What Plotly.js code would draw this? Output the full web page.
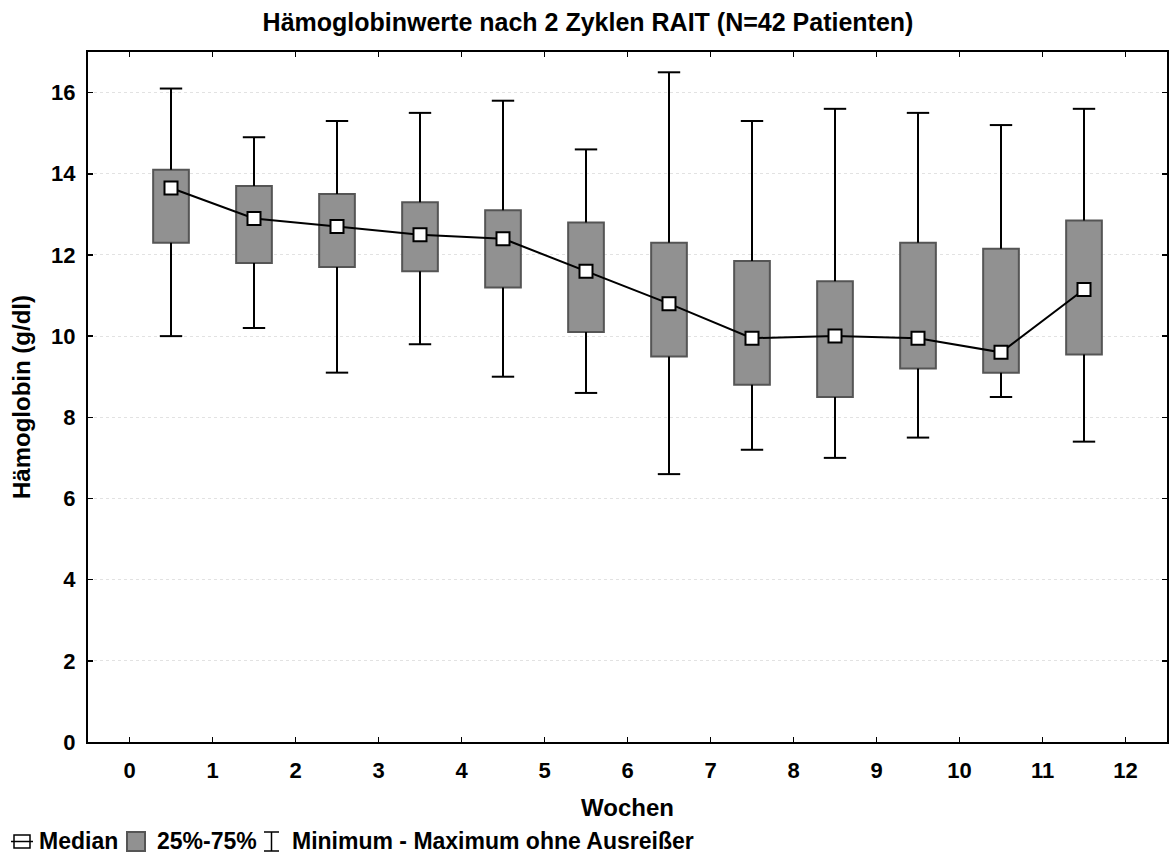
<!DOCTYPE html>
<html>
<head>
<meta charset="utf-8">
<script src="https://cdn.plot.ly/plotly-3.0.1.min.js"></script>
<style>html,body{margin:0;padding:0;background:#fff;}#chart{width:1169px;height:857px;}</style>
</head>
<body>
<div id="chart"></div>
<script>
// Data
const weekPos = [0.5, 1.5, 2.5, 3.5, 4.5, 5.5, 6.5, 7.5, 8.5, 9.5, 10.5, 11.5];
const maxVals = [16.1, 14.9, 15.3, 15.5, 15.8, 14.6, 16.5, 15.3, 15.6, 15.5, 15.2, 15.6];
const q3Vals  = [14.1, 13.7, 13.5, 13.3, 13.1, 12.8, 12.3, 11.85, 11.35, 12.3, 12.15, 12.85];
const medVals = [13.65, 12.9, 12.7, 12.5, 12.4, 11.6, 10.8, 9.95, 10.0, 9.95, 9.6, 11.15];
const q1Vals  = [12.3, 11.8, 11.7, 11.6, 11.2, 10.1, 9.5, 8.8, 8.5, 9.2, 9.1, 9.55];
const minVals = [10.0, 10.2, 9.1, 9.8, 9.0, 8.6, 6.6, 7.2, 7.0, 7.5, 8.5, 7.4];
const xTicks = [0,1,2,3,4,5,6,7,8,9,10,11,12];
const yTicks = [0,2,4,6,8,10,12,14,16];

const FONT = 'Liberation Sans, Arial, Helvetica, sans-serif';

// whisker segments built from data
const wx = [], wy = [];
weekPos.forEach((x, i) => {
  wx.push(x, x, null, x, x, null);
  wy.push(q3Vals[i], maxVals[i], null, minVals[i], q1Vals[i], null);
});
const capX = weekPos.concat(weekPos);
const capY = maxVals.concat(minVals);

const traces = [
  {
    type: 'bar', x: weekPos, y: q3Vals.map((v, i) => v - q1Vals[i]), base: q1Vals,
    width: 0.43, marker: {color: '#919191', line: {color: '#555555', width: 2}},
    showlegend: false, hoverinfo: 'skip'
  },
  {
    type: 'scatter', mode: 'lines', x: wx, y: wy,
    line: {color: '#000', width: 2}, showlegend: false, hoverinfo: 'skip'
  },
  {
    type: 'scatter', mode: 'markers', x: capX, y: capY,
    marker: {symbol: 'line-ew', size: 16, line: {color: '#000', width: 2}},
    showlegend: false, hoverinfo: 'skip'
  },
  {
    type: 'scatter', mode: 'lines+markers', x: weekPos, y: medVals,
    line: {color: '#000', width: 2},
    marker: {symbol: 'square', size: 13, color: '#fff', line: {color: '#000', width: 2}},
    showlegend: false
  }
];

// pixel -> paper helpers for the legend row (plot area 88..1167 x, 52..742 y)
const L = 88, R = 1167, T = 52, B = 742;
const px = v => (v - L) / (R - L);
const py = v => (B - v) / (B - T);

const legendY = 841;
const annFont = {family: FONT, size: 23, color: '#000', weight: 700};
const annotations = [
  {text: 'Median', x: px(37), y: py(legendY), xref: 'paper', yref: 'paper', xanchor: 'left', yanchor: 'middle', showarrow: false, font: annFont},
  {text: '25%-75%', x: px(155), y: py(legendY), xref: 'paper', yref: 'paper', xanchor: 'left', yanchor: 'middle', showarrow: false, font: annFont},
  {text: 'Minimum - Maximum ohne Ausreißer', x: px(290), y: py(legendY), xref: 'paper', yref: 'paper', xanchor: 'left', yanchor: 'middle', showarrow: false, font: annFont}
];
const shapes = [
  // median symbol
  {type: 'rect', xref: 'paper', yref: 'paper', x0: px(14), x1: px(30), y0: py(848), y1: py(835), line: {color: '#000', width: 1.5}, fillcolor: 'rgba(0,0,0,0)'},
  {type: 'line', xref: 'paper', yref: 'paper', x0: px(11), x1: px(33), y0: py(841.5), y1: py(841.5), line: {color: '#000', width: 1.5}},
  // box symbol
  {type: 'rect', xref: 'paper', yref: 'paper', x0: px(127), x1: px(145), y0: py(851), y1: py(832), line: {color: '#555', width: 2}, fillcolor: '#919191'},
  // whisker symbol
  {type: 'line', xref: 'paper', yref: 'paper', x0: px(271.5), x1: px(271.5), y0: py(851), y1: py(832), line: {color: '#000', width: 1.5}},
  {type: 'line', xref: 'paper', yref: 'paper', x0: px(264), x1: px(279), y0: py(832), y1: py(832), line: {color: '#000', width: 1.5}},
  {type: 'line', xref: 'paper', yref: 'paper', x0: px(264), x1: px(279), y0: py(851), y1: py(851), line: {color: '#000', width: 1.5}}
];

const layout = {
  width: 1169, height: 857,
  margin: {l: 88, r: 2, t: 52, b: 115},
  paper_bgcolor: '#fff', plot_bgcolor: '#fff',
  showlegend: false,
  font: {family: FONT, color: '#000'},
  title: {
    text: 'Hämoglobinwerte nach 2 Zyklen RAIT (N=42 Patienten)',
    font: {family: FONT, size: 25, color: '#000', weight: 700},
    x: 0.503, xref: 'container', xanchor: 'center', y: 1 - 22 / 857, yref: 'container', yanchor: 'middle'
  },
  xaxis: {
    range: [-0.5, 12.5], tickvals: xTicks, ticktext: xTicks.map(String),
    ticks: 'inside', ticklen: 5, tickwidth: 1.5, tickcolor: '#000',
    showline: true, linecolor: '#000', linewidth: 2, mirror: 'ticks',
    showgrid: false, zeroline: false, ticklabelstandoff: 8,
    tickfont: {family: FONT, size: 22, color: '#000', weight: 700},
    title: {text: 'Wochen', font: {family: FONT, size: 24, color: '#000', weight: 700}, standoff: 17}
  },
  yaxis: {
    range: [0, 17], tickvals: yTicks, ticktext: yTicks.map(String),
    ticks: 'inside', ticklen: 5, tickwidth: 1.5, tickcolor: '#000',
    showline: true, linecolor: '#000', linewidth: 2, mirror: 'ticks',
    showgrid: true, gridcolor: '#e2e2e2', griddash: 'dot', gridwidth: 1, zeroline: false,
    ticklabelstandoff: 6,
    tickfont: {family: FONT, size: 22, color: '#000', weight: 700},
    title: {text: 'Hämoglobin (g/dl)', font: {family: FONT, size: 24, color: '#000', weight: 700}, standoff: 14}
  },
  annotations: annotations,
  shapes: shapes
};

Plotly.newPlot('chart', traces, layout, {displayModeBar: false, staticPlot: true});
</script>
</body>
</html>
